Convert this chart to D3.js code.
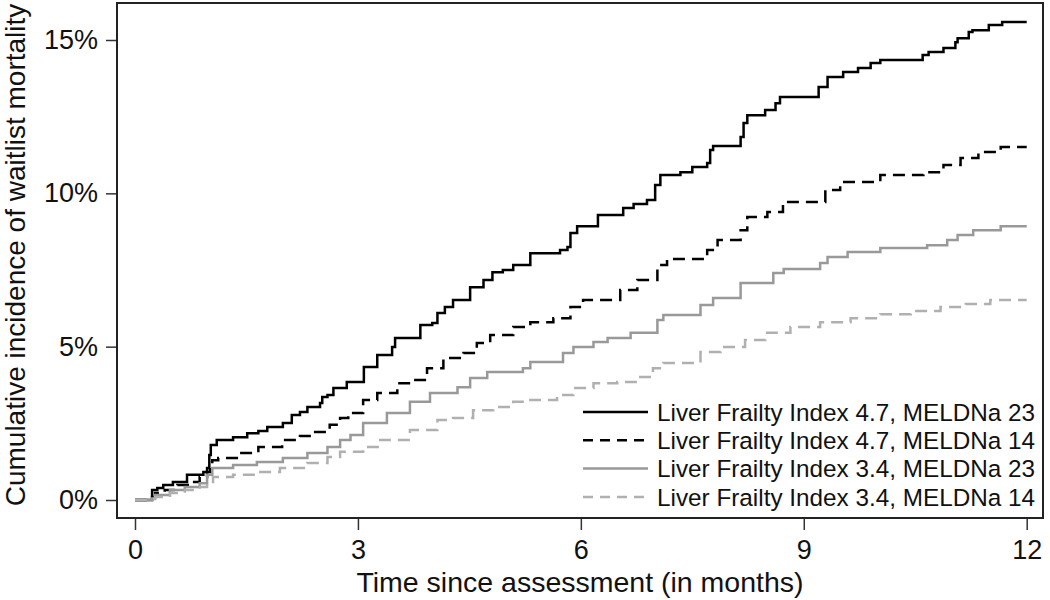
<!DOCTYPE html>
<html>
<head>
<meta charset="utf-8">
<script src="https://cdn.jsdelivr.net/npm/d3@7"></script>
<style>
  body { margin: 0; background: #fff; }
  svg { font-family: "Liberation Sans", Arial, sans-serif; }
</style>
</head>
<body>
<div id="chart"></div>
<script>
// cumulative incidence (%), step points [months, percent]
const lfi47_meld23 = [[0,0],[0.23,0.33],[0.30,0.39],[0.38,0.49],[0.51,0.59],[0.70,0.82],[0.92,0.91],[0.97,1.04],[1.00,1.47],[1.02,1.79],[1.10,1.96],[1.32,2.05],[1.51,2.18],[1.66,2.25],[1.78,2.38],[1.99,2.51],[2.11,2.77],[2.22,2.87],[2.32,3.03],[2.49,3.16],[2.52,3.36],[2.59,3.42],[2.67,3.65],[2.85,3.85],[3.08,4.34],[3.26,4.73],[3.46,4.99],[3.50,5.28],[3.84,5.71],[4.00,5.77],[4.07,6.10],[4.17,6.29],[4.28,6.52],[4.51,6.94],[4.69,7.17],[4.81,7.43],[4.95,7.50],[5.09,7.66],[5.32,8.05],[5.72,8.15],[5.82,8.25],[5.86,8.71],[5.95,8.93],[6.23,9.29],[6.57,9.52],[6.71,9.65],[6.89,9.78],[7.00,10.27],[7.07,10.60],[7.34,10.69],[7.50,10.86],[7.70,10.99],[7.74,11.41],[7.78,11.54],[8.15,11.84],[8.19,12.29],[8.24,12.55],[8.48,12.72],[8.62,12.94],[8.68,13.14],[9.20,13.47],[9.32,13.79],[9.53,13.96],[9.73,14.09],[9.90,14.25],[10.03,14.35],[10.60,14.51],[10.68,14.61],[10.88,14.74],[11.04,14.93],[11.07,15.06],[11.22,15.26],[11.27,15.32],[11.49,15.49],[11.67,15.59],[12,15.59]];
const lfi47_meld14 = [[0,0],[0.23,0.10],[0.27,0.23],[0.40,0.33],[0.57,0.49],[0.74,0.59],[0.87,0.75],[0.97,0.91],[1.01,1.14],[1.04,1.30],[1.12,1.37],[1.37,1.53],[1.66,1.73],[1.98,1.96],[2.22,2.09],[2.40,2.22],[2.62,2.45],[2.76,2.67],[2.87,2.84],[3.07,3.26],[3.26,3.49],[3.53,3.81],[3.74,3.91],[3.93,4.30],[4.15,4.63],[4.42,4.79],[4.60,5.12],[4.78,5.38],[5.09,5.64],[5.32,5.80],[5.63,5.93],[5.86,6.29],[6.03,6.52],[6.53,6.85],[6.76,7.17],[7.03,7.66],[7.16,7.86],[7.70,8.15],[7.84,8.48],[8.15,8.80],[8.24,9.23],[8.51,9.39],[8.72,9.72],[9.29,10.11],[9.49,10.37],[10.03,10.60],[10.61,10.69],[10.88,10.92],[11.11,11.15],[11.35,11.35],[11.65,11.51],[12,11.51]];
const lfi34_meld23 = [[0,0],[0.23,0.05],[0.27,0.16],[0.47,0.33],[0.67,0.42],[0.87,0.55],[0.97,0.82],[1.04,1.04],[1.32,1.14],[1.64,1.24],[1.99,1.37],[2.32,1.53],[2.59,1.73],[2.76,1.96],[2.90,2.12],[3.07,2.51],[3.39,2.84],[3.70,3.20],[3.97,3.49],[4.34,3.68],[4.51,3.98],[4.74,4.17],[5.22,4.30],[5.32,4.50],[5.76,4.79],[5.90,4.99],[6.17,5.15],[6.36,5.28],[6.67,5.45],[7.03,5.87],[7.11,6.03],[7.61,6.36],[7.78,6.59],[8.15,7.08],[8.59,7.40],[8.73,7.53],[9.22,7.73],[9.32,7.92],[9.59,8.09],[10.03,8.22],[10.66,8.31],[10.93,8.48],[11.07,8.64],[11.28,8.80],[11.65,8.93],[12,8.93]];
const lfi34_meld14 = [[0,0],[0.23,0.03],[0.27,0.10],[0.47,0.23],[0.67,0.33],[0.87,0.42],[0.97,0.59],[1.05,0.75],[1.32,0.82],[1.64,0.91],[1.95,1.04],[2.32,1.21],[2.59,1.40],[2.76,1.57],[3.07,1.73],[3.30,1.96],[3.70,2.28],[4.07,2.61],[4.28,2.67],[4.55,2.93],[4.82,3.03],[5.09,3.20],[5.32,3.26],[5.68,3.42],[5.90,3.65],[6.17,3.81],[6.49,3.85],[6.76,4.01],[6.97,4.30],[7.11,4.47],[7.61,4.83],[7.88,4.99],[8.21,5.22],[8.48,5.45],[8.82,5.64],[9.22,5.80],[9.63,5.93],[10.03,6.06],[10.44,6.16],[10.84,6.29],[11.18,6.39],[11.51,6.52],[12,6.52]];

const seriesLabels = [
  "Liver Frailty Index 4.7, MELDNa 23",
  "Liver Frailty Index 4.7, MELDNa 14",
  "Liver Frailty Index 3.4, MELDNa 23",
  "Liver Frailty Index 3.4, MELDNa 14"
];
const xTicks = [0, 3, 6, 9, 12];
const yTicks = [0, 5, 10, 15];

const series = [
  { label: seriesLabels[0], data: lfi47_meld23, color: "#000", dash: null },
  { label: seriesLabels[1], data: lfi47_meld14, color: "#000", dash: "12,7" },
  { label: seriesLabels[2], data: lfi34_meld23, color: "#999", dash: null },
  { label: seriesLabels[3], data: lfi34_meld14, color: "#b0b0b0", dash: "12,7" }
];

const svg = d3.select("#chart").append("svg")
    .attr("width", 1050)
    .attr("height", 600);

const box = { left: 117, top: 3, right: 1043, bottom: 518 };

const x = d3.scaleLinear().domain([0, 12]).range([135, 1026.7]);
const y = d3.scaleLinear().domain([0, 15]).range([500, 40]);

const line = d3.line()
    .x(d => x(d[0]))
    .y(d => y(d[1]))
    .curve(d3.curveStepAfter);

// axes
const xAxis = svg.append("g")
    .attr("transform", `translate(0,${box.bottom})`)
    .call(d3.axisBottom(x).tickValues(xTicks).tickSize(12).tickPadding(10));
const yAxis = svg.append("g")
    .attr("transform", `translate(${box.left},0)`)
    .call(d3.axisLeft(y).tickValues(yTicks).tickSize(11).tickPadding(8).tickFormat(d => d + "%"));

[xAxis, yAxis].forEach(g => {
    g.select(".domain").remove();
    g.selectAll(".tick line").attr("stroke", "#333").attr("stroke-width", 1.5);
    g.selectAll(".tick text")
        .style("font-size", "27px")
        .style("font-family", "'Liberation Sans', Arial, sans-serif")
        .attr("fill", "#111");
});

// curves
series.forEach(s => {
    svg.append("path")
        .datum(s.data)
        .attr("fill", "none")
        .attr("stroke", s.color)
        .attr("stroke-width", 2.5)
        .attr("stroke-dasharray", s.dash)
        .attr("d", line);
});

// frame
svg.append("rect")
    .attr("x", box.left)
    .attr("y", box.top)
    .attr("width", box.right - box.left)
    .attr("height", box.bottom - box.top)
    .attr("fill", "none")
    .attr("stroke", "#222")
    .attr("stroke-width", 2);

// axis titles
svg.append("text")
    .attr("x", (box.left + box.right) / 2 + 0)
    .attr("y", 592)
    .attr("text-anchor", "middle")
    .style("font-size", "28.5px")
    .attr("fill", "#111")
    .text("Time since assessment (in months)");

svg.append("text")
    .attr("transform", "translate(25,255) rotate(-90)")
    .attr("text-anchor", "middle")
    .style("font-size", "28px")
    .attr("fill", "#111")
    .text("Cumulative incidence of waitlist mortality");

// legend
const legend = svg.append("g").attr("transform", "translate(583,412)");
series.forEach((s, i) => {
    const row = legend.append("g").attr("transform", `translate(0,${i * 28.3})`);
    row.append("line")
        .attr("x1", 0).attr("x2", 65)
        .attr("y1", 0).attr("y2", 0)
        .attr("stroke", s.color)
        .attr("stroke-width", 2.5)
        .attr("stroke-dasharray", s.dash ? "10,7" : null);
    row.append("text")
        .attr("x", 74)
        .attr("dy", "0.36em")
        .style("font-size", "24.3px")
        .attr("fill", "#111")
        .text(s.label);
});
</script>
</body>
</html>
